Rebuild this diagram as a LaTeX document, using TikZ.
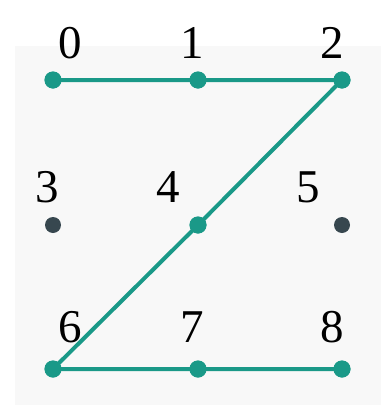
\documentclass[tikz,border=0pt]{standalone}
\usepackage{fontspec}
\setmainfont{Liberation Serif}
\begin{document}
\begin{tikzpicture}[x=1pt,y=-1pt,font=\fontsize{47}{50}\selectfont]
  \definecolor{teal}{HTML}{1A9988}
  \definecolor{slate}{HTML}{37474F}
  \definecolor{back}{HTML}{F8F8F8}
  \tikzset{dot/.style={circle,fill=teal,inner sep=0pt,minimum size=17pt},
    idle/.style={dot,fill=slate,minimum size=16pt},
    num/.style={inner sep=0pt,anchor=base},
    link/.style={teal,line width=4pt}}
  \useasboundingbox (0,0) rectangle (384,405);
  \fill[back] (15,46) rectangle (381,405);
  \node[dot] (p0) at (53,80) {};
  \node[dot] (p1) at (198,80) {};
  \node[dot] (p2) at (342,80) {};
  \node[idle] (p3) at (53,225) {};
  \node[dot] (p4) at (198,225) {};
  \node[idle] (p5) at (342,225) {};
  \node[dot] (p6) at (53,369) {};
  \node[dot] (p7) at (198,369) {};
  \node[dot] (p8) at (342,369) {};
  \node[num] (n0) at (70,58) {0};
  \node[num] (n1) at (192,58) {1};
  \node[num] (n2) at (332,58) {2};
  \node[num] (n3) at (47,202) {3};
  \node[num] (n4) at (168,202) {4};
  \node[num] (n5) at (308,202) {5};
  \node[num] (n6) at (70,342) {6};
  \node[num] (n7) at (192,342) {7};
  \node[num] (n8) at (332,342) {8};
  \draw[link] (p0.center) -- (p1.center) -- (p2.center) -- (p4.center) -- (p6.center) -- (p7.center) -- (p8.center);
  \foreach \p in {p0,p1,p2,p4,p6,p7,p8} \node[dot] at (\p) {};
\end{tikzpicture}
\end{document}
